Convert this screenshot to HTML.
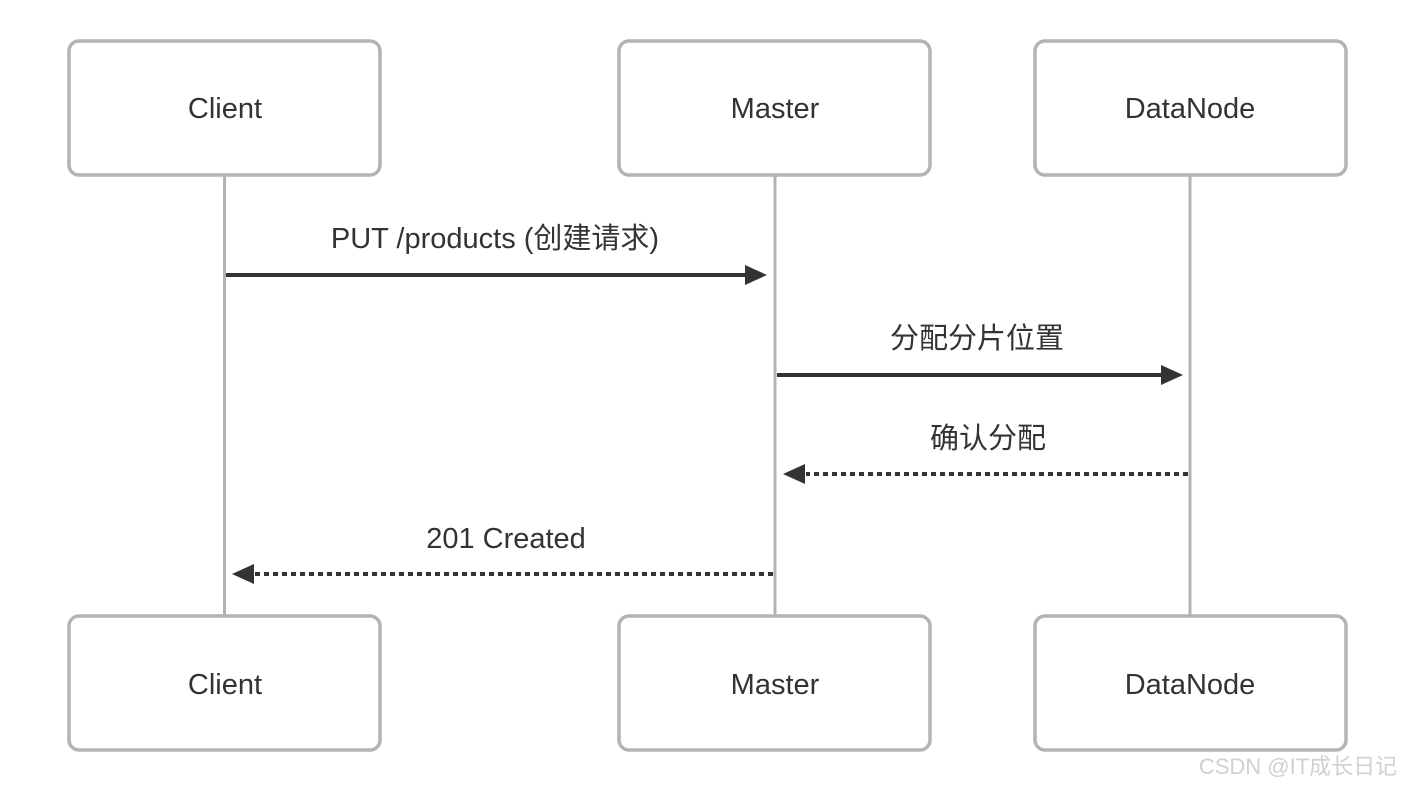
<!DOCTYPE html>
<html><head><meta charset="utf-8"><style>body{margin:0;background:#fff}</style></head><body>
<svg width="1418" height="790" xmlns="http://www.w3.org/2000/svg" font-family="Liberation Sans, Noto Sans CJK SC, sans-serif">
<g stroke="#b3b3b3" stroke-width="3">
<line x1="224.5" y1="176" x2="224.5" y2="615"/>
<line x1="775" y1="176" x2="775" y2="615"/>
<line x1="1190" y1="176" x2="1190" y2="615"/>
</g>
<g fill="#fff" stroke="#b3b3b3" stroke-width="3.5">
<rect x="69" y="41" width="311" height="134" rx="10"/>
<rect x="619" y="41" width="311" height="134" rx="10"/>
<rect x="1035" y="41" width="311" height="134" rx="10"/>
<rect x="69" y="616" width="311" height="134" rx="10"/>
<rect x="619" y="616" width="311" height="134" rx="10"/>
<rect x="1035" y="616" width="311" height="134" rx="10"/>
</g>
<g fill="#333" font-size="29" text-anchor="middle">
<text x="225" y="118">Client</text>
<text x="775" y="118">Master</text>
<text x="1190" y="118">DataNode</text>
<text x="225" y="694">Client</text>
<text x="775" y="694">Master</text>
<text x="1190" y="694">DataNode</text>
<text x="495" y="248">PUT /products (创建请求)</text>
<text x="977" y="348">分配分片位置</text>
<text x="988" y="448">确认分配</text>
<text x="506" y="548">201 Created</text>
</g>
<g stroke="#333" stroke-width="4">
<line x1="226" y1="275" x2="748" y2="275"/>
<line x1="777" y1="375" x2="1163" y2="375"/>
<line x1="1188" y1="474" x2="806" y2="474" stroke-dasharray="5,4"/>
<line x1="773" y1="574" x2="255" y2="574" stroke-dasharray="5,4"/>
</g>
<g fill="#333">
<polygon points="767,275 745,265 745,285"/>
<polygon points="1183,375 1161,365 1161,385"/>
<polygon points="783,474 805,464 805,484"/>
<polygon points="232,574 254,564 254,584"/>
</g>
<text x="1298" y="774" font-size="22" fill="#d0d0d0" text-anchor="middle">CSDN @IT成长日记</text>
</svg>
</body></html>
